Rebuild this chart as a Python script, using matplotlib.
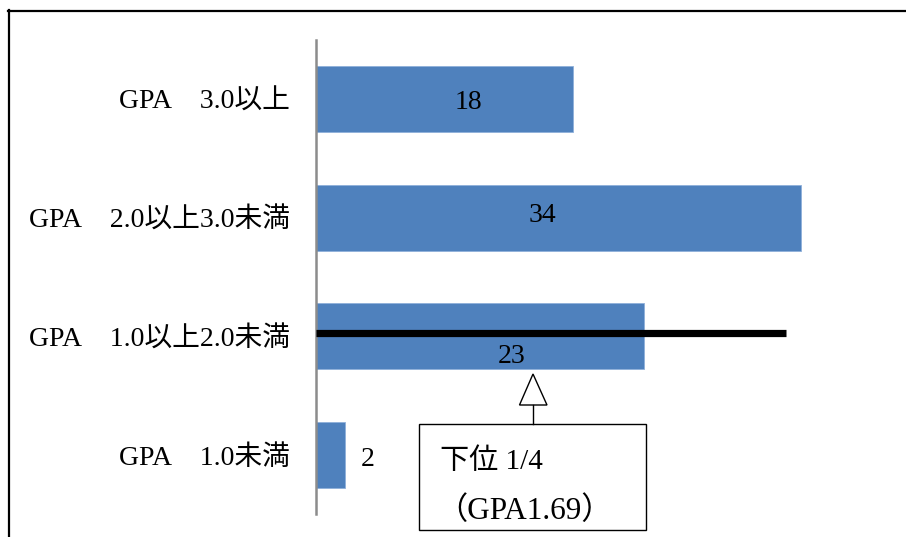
import matplotlib
matplotlib.use("Agg")
import matplotlib.pyplot as plt
from matplotlib.lines import Line2D
from matplotlib.patches import Rectangle

# ---- data ----
categories = ["GPA\u30003.0以上", "GPA\u30002.0以上3.0未満", "GPA\u30001.0以上2.0未満", "GPA\u30001.0未満"]
values = [18, 34, 23, 2]
# label anchor positions (data units) as placed in the original
label_x = [10.65, 15.85, 13.7, 3.65]
label_y_shift = [0.03, -0.02, 0.17, 0.04]
threshold_cat = 1.975       # y position of the lower-quarter line (category units)
threshold_len = 32.95       # length of the line in value units
note_lines = ["下位 1/4", "（GPA1.69）"]

FONT = ["Liberation Serif", "Noto Sans CJK JP", "DejaVu Sans"]
plt.rcParams["font.family"] = FONT
FS = 20

W, H = 906, 537
fig = plt.figure(figsize=(W / 100, H / 100), dpi=100)
fig.patch.set_facecolor("white")

ax_left, ax_top, ax_bottom, ax_right = 316, 40, 514, 900
ax = fig.add_axes([ax_left / W, 1 - ax_bottom / H, (ax_right - ax_left) / W, (ax_bottom - ax_top) / H])
ax.set_facecolor("none")

ypos = list(range(len(categories)))
ax.barh(ypos, values, height=0.557, color="#4F81BD", edgecolor="#8FB0DA", linewidth=0.6, zorder=2)
ax.set_xlim(0, (ax_right - ax_left) / 14.265)
ax.set_ylim(len(categories) - 0.5, -0.5)

ax.set_yticks(ypos)
ax.set_yticklabels(categories, fontsize=FS)
ax.tick_params(axis="y", length=0, pad=19)
ax.tick_params(axis="x", bottom=False, labelbottom=False)
for s in ["top", "right", "bottom"]:
    ax.spines[s].set_visible(False)
ax.spines["left"].set_color("#8C8C8C")
ax.spines["left"].set_linewidth(1.8)
ax.spines["left"].set_zorder(3)

for i, v in enumerate(values):
    ax.text(label_x[i], i + label_y_shift[i], str(v), ha="center", va="center",
            fontsize=FS, color="black", zorder=4)

# lower-quarter line
ax.plot([0, threshold_len], [threshold_cat, threshold_cat], color="black", lw=5.2,
        solid_capstyle="butt", zorder=5)

# note box with hollow arrow (figure pixel layout)
def fx(px):
    return px / W

def fy(py):
    return 1 - py / H

box = Rectangle((fx(419), fy(530)), fx(646) - fx(419), fy(424) - fy(530),
                transform=fig.transFigure, facecolor="white", edgecolor="black", lw=1.0, zorder=6)
fig.add_artist(box)
tri = plt.Polygon([[fx(533), fy(374)], [fx(519.5), fy(405)], [fx(547), fy(405)]],
                  closed=True, transform=fig.transFigure, facecolor="white", edgecolor="black", lw=1.0, zorder=6)
fig.add_artist(tri)
fig.add_artist(Line2D([fx(533), fx(533)], [fy(405), fy(424)], transform=fig.transFigure, color="black", lw=1.0, zorder=6))

fig.text(fx(440), fy(462), note_lines[0], ha="left", va="center", fontsize=21, zorder=7)
fig.text(fx(436), fy(511), note_lines[1], ha="left", va="center", fontsize=22.5, zorder=7)

# outer frame (top and left edges visible)
fig.add_artist(Line2D([fx(8), 1.0], [fy(10.5), fy(10.5)], transform=fig.transFigure, color="black", lw=1.6))
fig.add_artist(Line2D([fx(8.5), fx(8.5)], [fy(10), 0.0], transform=fig.transFigure, color="black", lw=1.6))

fig.savefig("out.png", dpi=100)
